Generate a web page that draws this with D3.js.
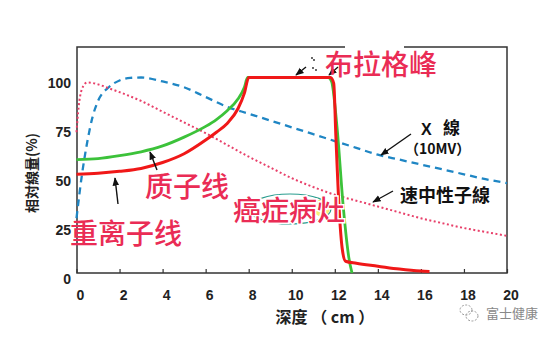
<!DOCTYPE html>
<html><head><meta charset="utf-8">
<script src="https://cdn.jsdelivr.net/npm/d3@7"></script>
<style>body{margin:0;background:#fff}svg{display:block}</style>
</head><body>
<svg id="c" width="554" height="339"></svg>
<script>
// ---- data ----
const xTicks = [0,2,4,6,8,10,12,14,16,18,20];
const yTicks = [0,25,50,75,100];
const xray = [[0,28],[0.25,50],[0.5,67],[0.75,80],[1,88],[1.5,95],[2,98.5],[2.5,99.8],[3,100],[4,98],[5,95],[6,90],[7,85],[8,81.5],[9,78],[10,74.5],[11,71],[12,67.5],[13,64],[14,60.5],[15,58],[16,55.5],[17,53],[18,50.5],[19,48],[20,46]];
const neutron = [[0,72],[0.1,85],[0.25,94],[0.5,97.5],[1,96.5],[1.5,94.5],[2,92.5],[3,88],[4,82.5],[5,77],[6,71.5],[7,65.5],[8,59.5],[9,54],[10,48.5],[11,44],[12,40],[13,37],[14,34],[15,31],[16,28],[17,25.5],[18,23],[19,21],[20,19]];
const proton = [[0,58],[1,58.5],[2,60],[3,62],[4,65],[5,69.5],[6,75],[6.5,78.5],[7,83],[7.5,89],[7.8,95],[7.95,100],[11.7,100],[11.85,98],[12.1,75],[12.4,33],[12.65,8],[12.8,0]];
const heavy = [[0,50.5],[1,51],[2,52],[3,53.5],[4,56.5],[5,61],[6,68],[6.5,72],[7,76.5],[7.5,84],[7.8,92],[8,100],[11.8,100],[11.95,97],[12.05,70],[12.2,33],[12.35,12],[12.5,6],[13,5],[14,3.5],[15,2],[16,1],[16.4,0.8]];

const svg = d3.select("#c");
const L=77, R=507, T=47, B=273;
const x = d3.scaleLinear().domain([0,20]).range([76.5,507]);
const y = d3.scaleLinear().domain([0,115.6]).range([B,T]);
const red = "#ea2c55";
const CJK = "'Noto Sans CJK SC','Noto Sans CJK JP',sans-serif";
const LAT = "'Liberation Sans',Arial,sans-serif";

// frame
svg.append("rect").attr("x",L).attr("y",T).attr("width",R-L).attr("height",B-T)
  .attr("fill","none").attr("stroke","#333").attr("stroke-width",1.5);
svg.append("rect").attr("x",345).attr("y",43).attr("width",59).attr("height",8).attr("fill","#fff");

// x axis ticks (inward)
const xa = svg.append("g").attr("transform",`translate(0,${B})`)
  .call(d3.axisBottom(x).tickValues(xTicks).tickSize(-4).tickPadding(0).tickFormat(""));
xa.select(".domain").remove();
xa.selectAll("line").attr("stroke","#333").attr("stroke-width",1.2);
svg.append("g").selectAll("text").data(xTicks).join("text")
  .attr("x",d=>x(d)+4).attr("y",300).attr("text-anchor","middle")
  .attr("font-family",LAT).attr("font-weight","bold").attr("font-size",14).attr("fill","#222")
  .text(d=>d);
svg.append("g").selectAll("text").data(yTicks).join("text")
  .attr("x",71).attr("y",d=>y(d)+11).attr("text-anchor","end")
  .attr("font-family",LAT).attr("font-weight","bold").attr("font-size",14).attr("fill","#222")
  .text(d=>d);

// axis titles
svg.append("text").attr("transform","translate(37,173) rotate(-90)").attr("text-anchor","middle")
  .attr("font-family",CJK).attr("font-weight","bold").attr("font-size",14).attr("fill","#222").text("相対線量(%)");
svg.append("text").attr("x",325).attr("y",323).attr("text-anchor","middle")
  .attr("font-family",CJK).attr("font-weight","bold").attr("font-size",16).attr("fill","#222").text("深度 （ cm ）");

// curves
const sline = d3.line().x(d=>x(d[0])).y(d=>y(d[1])).curve(d3.curveMonotoneX);
svg.append("path").attr("d",sline(xray)).attr("fill","none").attr("stroke","#1f86c4")
  .attr("stroke-width",2.3).attr("stroke-dasharray","7,5");
svg.append("path").attr("d",sline(neutron)).attr("fill","none").attr("stroke","#e8406a")
  .attr("stroke-width",2).attr("stroke-dasharray","2,2.5");
svg.append("path").attr("d",sline(proton)).attr("fill","none").attr("stroke","#3cc23a")
  .attr("stroke-width",2.8);
svg.append("path").attr("d",sline(heavy)).attr("fill","none").attr("stroke","#f01818")
  .attr("stroke-width",3);

// arrows
const defs = svg.append("defs");
defs.append("marker").attr("id","ah").attr("viewBox","0 0 10 10").attr("refX",9).attr("refY",5)
  .attr("markerWidth",6).attr("markerHeight",6).attr("orient","auto")
  .append("path").attr("d","M0,1 L10,5 L0,9 Z").attr("fill","#111");
const arrows = [[[157,170],[150,152]],[[118,204],[115,178]],[[411,134],[381,155]],[[393,191],[373,202]],[[306,67],[296,75]],[[338,67],[329,75]]];
svg.append("g").selectAll("line").data(arrows).join("line")
  .attr("x1",d=>d[0][0]).attr("y1",d=>d[0][1]).attr("x2",d=>d[1][0]).attr("y2",d=>d[1][1])
  .attr("stroke","#111").attr("stroke-width",1.4).attr("marker-end","url(#ah)");
svg.append("g").selectAll("circle").data([[312,58],[314,60],[313,68],[316,70]]).join("circle")
  .attr("cx",d=>d[0]).attr("cy",d=>d[1]).attr("r",0.9).attr("fill","#222");

// tumour highlight
svg.append("ellipse").attr("cx",322).attr("cy",208).attr("rx",8).attr("ry",9).attr("fill","#f4ef7a");
svg.append("ellipse").attr("cx",290).attr("cy",209).attr("rx",41).attr("ry",15)
  .attr("fill","none").attr("stroke","#2a9d8f").attr("stroke-width",1.2);

// labels
const lab = (t,x0,y0,fs,col,fw,fam)=>svg.append("text").attr("x",x0).attr("y",y0)
  .attr("font-family",fam||CJK).attr("font-size",fs).attr("font-weight",fw||500).attr("fill",col).text(t);
lab("布拉格峰",325,75,28,red);
lab("质子线",145,197,28,red);
lab("重离子线",70,244,28,red);
lab("癌症病灶",233,221,28,red).attr("stroke","#fff").attr("stroke-width",3).attr("paint-order","stroke");
lab("X",421,135,16,"#111","bold",LAT);
lab("線",443,134,17,"#111","bold");
lab("（10MV）",405,154,14,"#111","bold");
lab("速中性子線",400,202,18,"#111","bold");

// watermark
const wm = svg.append("g").attr("stroke","#999").attr("fill","none").attr("stroke-width",1).attr("stroke-dasharray","2,1.5");
wm.append("ellipse").attr("cx",466).attr("cy",310).attr("rx",6).attr("ry",5);
wm.append("ellipse").attr("cx",472).attr("cy",316).attr("rx",6).attr("ry",5);
lab("富士健康",486,318,13,"#888",400);
</script>
</body></html>
